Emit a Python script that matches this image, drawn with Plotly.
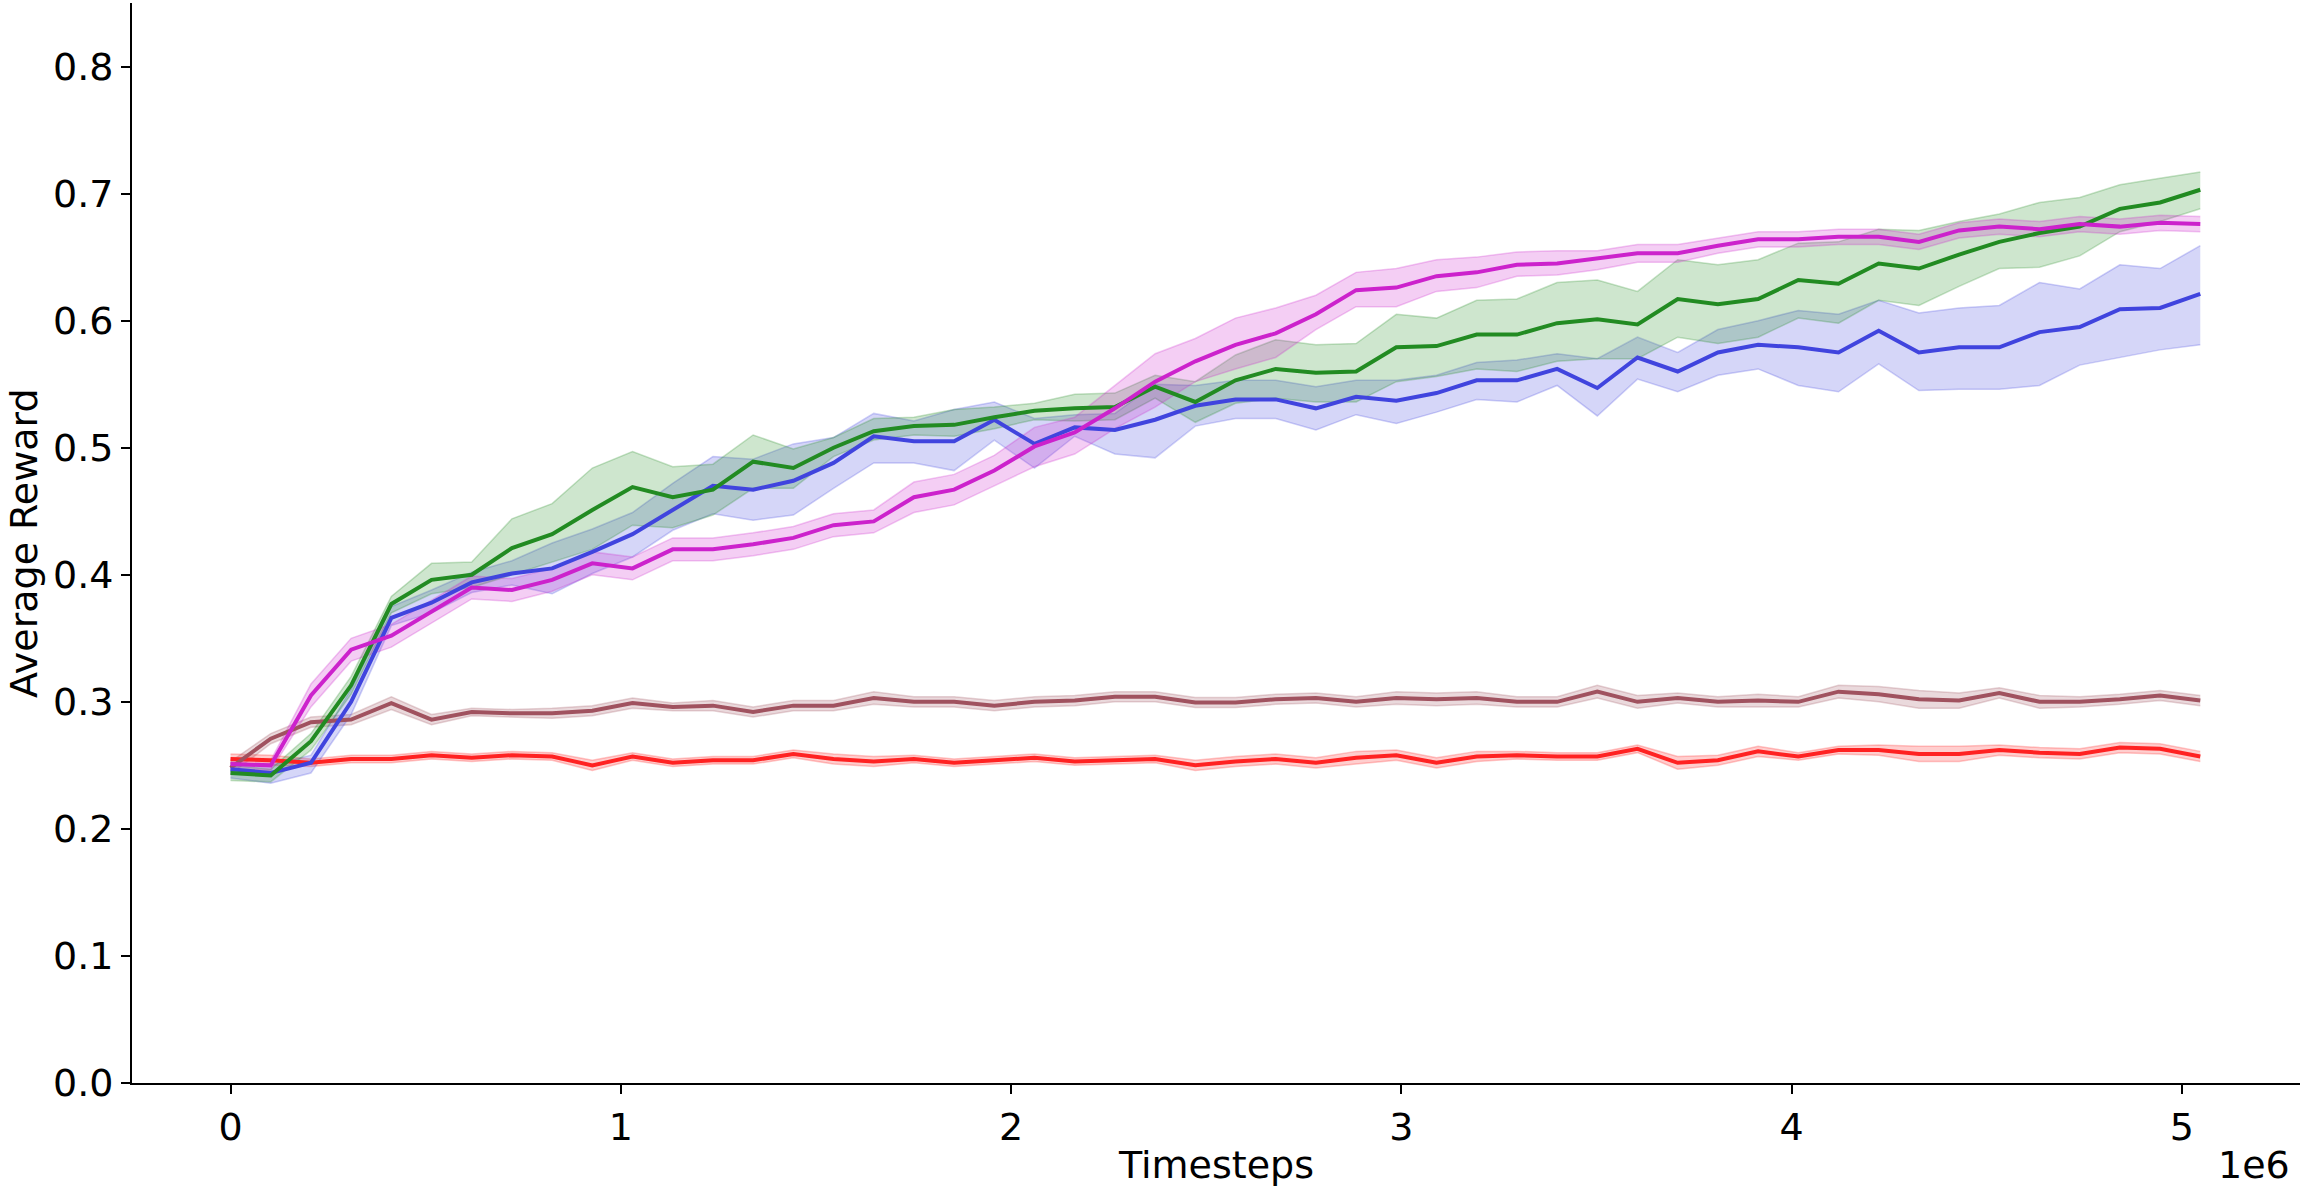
import plotly.graph_objects as go

timesteps = [i * 103000 for i in range(50)]

green_mean = [0.244, 0.242, 0.269, 0.313, 0.377, 0.396, 0.400, 0.421, 0.432, 0.451,
              0.469, 0.461, 0.467, 0.489, 0.484, 0.500, 0.513, 0.517, 0.518, 0.524,
              0.529, 0.531, 0.532, 0.548, 0.536, 0.553, 0.562, 0.559, 0.560, 0.579,
              0.580, 0.589, 0.589, 0.598, 0.601, 0.597, 0.617, 0.613, 0.617, 0.632,
              0.629, 0.645, 0.641, 0.652, 0.662, 0.669, 0.674, 0.688, 0.693, 0.703]
green_upper = [0.250, 0.247, 0.275, 0.320, 0.383, 0.409, 0.410, 0.444, 0.456, 0.484,
               0.497, 0.485, 0.487, 0.510, 0.499, 0.508, 0.523, 0.524, 0.530, 0.532,
               0.535, 0.542, 0.543, 0.557, 0.552, 0.573, 0.585, 0.581, 0.582, 0.605,
               0.602, 0.616, 0.617, 0.630, 0.632, 0.623, 0.648, 0.644, 0.648, 0.661,
               0.662, 0.672, 0.671, 0.678, 0.684, 0.693, 0.697, 0.707, 0.712, 0.717]
green_lower = [0.238, 0.237, 0.262, 0.306, 0.370, 0.385, 0.390, 0.400, 0.410, 0.420,
               0.439, 0.437, 0.447, 0.468, 0.468, 0.493, 0.506, 0.510, 0.509, 0.515,
               0.522, 0.521, 0.522, 0.539, 0.520, 0.535, 0.539, 0.536, 0.536, 0.552,
               0.556, 0.562, 0.560, 0.568, 0.570, 0.570, 0.587, 0.582, 0.587, 0.602,
               0.598, 0.616, 0.612, 0.627, 0.641, 0.642, 0.651, 0.670, 0.678, 0.688]

blue_mean = [0.247, 0.244, 0.252, 0.300, 0.366, 0.378, 0.394, 0.401, 0.405, 0.418,
             0.432, 0.451, 0.470, 0.467, 0.474, 0.488, 0.509, 0.505, 0.505, 0.522,
             0.503, 0.516, 0.514, 0.522, 0.533, 0.538, 0.538, 0.531, 0.540, 0.537,
             0.543, 0.553, 0.553, 0.562, 0.547, 0.571, 0.560, 0.575, 0.581, 0.579,
             0.575, 0.592, 0.575, 0.579, 0.579, 0.591, 0.595, 0.609, 0.610, 0.621]
blue_upper = [0.252, 0.250, 0.258, 0.310, 0.375, 0.388, 0.402, 0.411, 0.425, 0.436,
              0.449, 0.472, 0.493, 0.491, 0.503, 0.508, 0.527, 0.521, 0.530, 0.536,
              0.523, 0.526, 0.527, 0.550, 0.549, 0.553, 0.553, 0.548, 0.553, 0.553,
              0.557, 0.567, 0.569, 0.574, 0.570, 0.587, 0.575, 0.593, 0.600, 0.608,
              0.605, 0.616, 0.606, 0.610, 0.612, 0.630, 0.625, 0.644, 0.641, 0.659]
blue_lower = [0.240, 0.236, 0.244, 0.290, 0.360, 0.370, 0.386, 0.392, 0.385, 0.401,
              0.414, 0.435, 0.448, 0.443, 0.447, 0.468, 0.488, 0.488, 0.482, 0.506,
              0.484, 0.509, 0.495, 0.492, 0.517, 0.523, 0.523, 0.514, 0.526, 0.519,
              0.528, 0.538, 0.536, 0.549, 0.525, 0.554, 0.544, 0.557, 0.562, 0.549,
              0.544, 0.566, 0.545, 0.546, 0.546, 0.549, 0.565, 0.571, 0.577, 0.581]

magenta_mean = [0.251, 0.250, 0.305, 0.341, 0.352, 0.371, 0.390, 0.388, 0.396, 0.409,
                0.405, 0.420, 0.420, 0.424, 0.429, 0.439, 0.442, 0.461, 0.467, 0.482,
                0.501, 0.512, 0.531, 0.552, 0.568, 0.581, 0.590, 0.605, 0.624, 0.626,
                0.635, 0.638, 0.644, 0.645, 0.649, 0.653, 0.653, 0.659, 0.664, 0.664,
                0.666, 0.666, 0.662, 0.671, 0.674, 0.672, 0.676, 0.674, 0.677, 0.676]
magenta_upper = [0.255, 0.254, 0.314, 0.350, 0.361, 0.380, 0.399, 0.397, 0.405, 0.418,
                 0.414, 0.429, 0.429, 0.433, 0.438, 0.448, 0.451, 0.473, 0.479, 0.494,
                 0.516, 0.524, 0.549, 0.574, 0.586, 0.602, 0.610, 0.620, 0.638, 0.641,
                 0.648, 0.650, 0.654, 0.655, 0.655, 0.660, 0.660, 0.665, 0.670, 0.670,
                 0.672, 0.672, 0.668, 0.677, 0.680, 0.678, 0.682, 0.680, 0.683, 0.682]
magenta_lower = [0.247, 0.246, 0.296, 0.332, 0.343, 0.362, 0.381, 0.379, 0.387, 0.400,
                 0.396, 0.411, 0.411, 0.415, 0.420, 0.430, 0.433, 0.449, 0.455, 0.470,
                 0.485, 0.495, 0.515, 0.532, 0.552, 0.562, 0.571, 0.593, 0.611, 0.611,
                 0.623, 0.626, 0.635, 0.636, 0.640, 0.646, 0.646, 0.653, 0.658, 0.658,
                 0.660, 0.660, 0.656, 0.665, 0.668, 0.666, 0.670, 0.668, 0.671, 0.670]

brown_mean = [0.248, 0.271, 0.284, 0.286, 0.299, 0.286, 0.292, 0.291, 0.291, 0.293,
              0.299, 0.296, 0.297, 0.292, 0.297, 0.297, 0.303, 0.300, 0.300, 0.297,
              0.300, 0.301, 0.304, 0.304, 0.2995, 0.2995, 0.302, 0.303, 0.300, 0.303,
              0.302, 0.303, 0.300, 0.300, 0.308, 0.300, 0.303, 0.300, 0.301, 0.300,
              0.308, 0.306, 0.302, 0.301, 0.307, 0.300, 0.300, 0.302, 0.305, 0.301]
brown_halfwidth = [0.005, 0.004, 0.004, 0.004, 0.005, 0.004, 0.003, 0.003, 0.004, 0.004,
                   0.004, 0.003, 0.004, 0.004, 0.004, 0.004, 0.005, 0.004, 0.004, 0.004,
                   0.004, 0.004, 0.004, 0.004, 0.004, 0.004, 0.004, 0.004, 0.004, 0.005,
                   0.005, 0.005, 0.004, 0.004, 0.005, 0.005, 0.004, 0.004, 0.005, 0.004,
                   0.005, 0.006, 0.007, 0.006, 0.004, 0.005, 0.004, 0.004, 0.004, 0.004]

red_mean = [0.255, 0.254, 0.252, 0.255, 0.255, 0.258, 0.256, 0.258, 0.257, 0.250,
            0.257, 0.252, 0.254, 0.254, 0.259, 0.255, 0.253, 0.255, 0.252, 0.254,
            0.256, 0.253, 0.254, 0.255, 0.250, 0.253, 0.255, 0.252, 0.256, 0.258,
            0.252, 0.257, 0.258, 0.257, 0.257, 0.263, 0.252, 0.254, 0.261, 0.257,
            0.262, 0.262, 0.259, 0.259, 0.262, 0.260, 0.259, 0.264, 0.263, 0.257]
red_halfwidth = [0.004, 0.004, 0.003, 0.003, 0.003, 0.003, 0.003, 0.003, 0.003, 0.004,
                 0.003, 0.003, 0.003, 0.003, 0.003, 0.004, 0.004, 0.003, 0.003, 0.003,
                 0.003, 0.003, 0.003, 0.003, 0.004, 0.004, 0.004, 0.004, 0.005, 0.004,
                 0.004, 0.004, 0.003, 0.003, 0.003, 0.003, 0.005, 0.004, 0.004, 0.003,
                 0.003, 0.004, 0.006, 0.006, 0.004, 0.004, 0.004, 0.004, 0.004, 0.004]

brown_upper = [m + h for m, h in zip(brown_mean, brown_halfwidth)]
brown_lower = [m - h for m, h in zip(brown_mean, brown_halfwidth)]
red_upper = [m + h for m, h in zip(red_mean, red_halfwidth)]
red_lower = [m - h for m, h in zip(red_mean, red_halfwidth)]

series = [
    ("red", (255, 34, 34), red_mean, red_lower, red_upper),
    ("brown", (160, 82, 95), brown_mean, brown_lower, brown_upper),
    ("blue", (64, 68, 222), blue_mean, blue_lower, blue_upper),
    ("green", (34, 139, 34), green_mean, green_lower, green_upper),
    ("magenta", (204, 34, 204), magenta_mean, magenta_lower, magenta_upper),
]

fig = go.Figure()
for name, (r, g, b), mean, lower, upper in series:
    fig.add_trace(go.Scatter(x=timesteps, y=lower, mode="lines",
                             line=dict(color=f"rgba({r},{g},{b},0.25)", width=1.5),
                             showlegend=False, hoverinfo="skip"))
    fig.add_trace(go.Scatter(x=timesteps, y=upper, mode="lines", fill="tonexty",
                             fillcolor=f"rgba({r},{g},{b},0.22)",
                             line=dict(color=f"rgba({r},{g},{b},0.25)", width=1.5),
                             showlegend=False, hoverinfo="skip"))
for name, (r, g, b), mean, lower, upper in series:
    fig.add_trace(go.Scatter(x=timesteps, y=mean, mode="lines", name=name,
                             line=dict(color=f"rgb({r},{g},{b})", width=4),
                             showlegend=False))

font = dict(family="DejaVu Sans", size=38, color="black")
fig.update_layout(
    width=2304, height=1188,
    margin=dict(l=132, r=4, t=3, b=105),
    paper_bgcolor="white", plot_bgcolor="white",
    font=font,
    showlegend=False,
    xaxis=dict(range=[-252500, 5302500], tickvals=[0, 1e6, 2e6, 3e6, 4e6, 5e6],
               ticktext=["0", "1", "2", "3", "4", "5"], automargin=False,
               showgrid=False, zeroline=False, showline=True, linecolor="black",
               linewidth=2, ticks="outside", ticklen=9, tickwidth=1.5, tickcolor="black",
               tickfont=font),
    yaxis=dict(range=[0, 0.85], tickvals=[0, 0.1, 0.2, 0.3, 0.4, 0.5, 0.6, 0.7, 0.8],
               tickformat=".1f", automargin=False,
               showgrid=False, zeroline=False, showline=True, linecolor="black",
               linewidth=2, ticks="outside", ticklen=9, tickwidth=1.5, tickcolor="black",
               tickfont=font),
)
fig.add_annotation(text="Timesteps", xref="paper", yref="paper", x=0.5, y=0,
                   xanchor="center", yanchor="middle", yshift=-82, showarrow=False,
                   font=font)
fig.add_annotation(text="Average Reward", xref="paper", yref="paper", x=0, y=0.5,
                   xanchor="center", yanchor="middle", xshift=-108, textangle=-90,
                   showarrow=False, font=font)
fig.add_annotation(text="1e6", xref="paper", yref="paper", x=0.979, y=0,
                   xanchor="center", yanchor="middle", yshift=-82, showarrow=False,
                   font=font)
fig.write_html("out.html", config={"displayModeBar": False},
               post_script="document.body.style.margin='0';document.body.style.overflow='hidden';")
